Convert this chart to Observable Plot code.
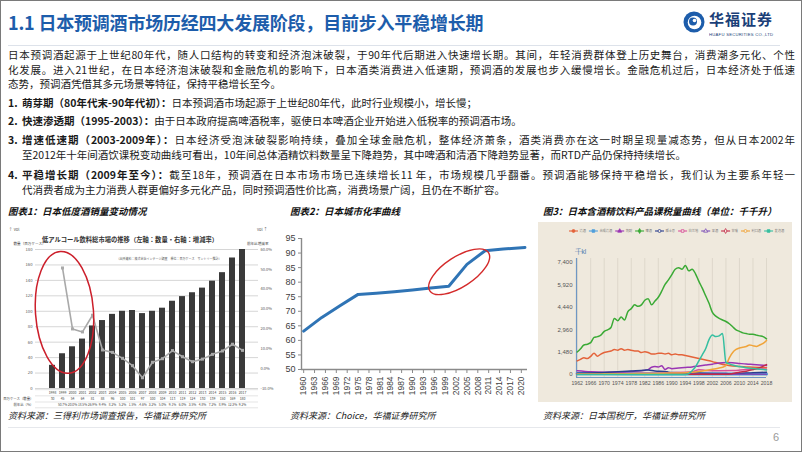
<!DOCTYPE html>
<html><head><meta charset="utf-8">
<script src="https://cdn.jsdelivr.net/npm/d3@7"></script>
<script src="https://cdn.jsdelivr.net/npm/@observablehq/plot@0.6"></script>
<style>
html,body{margin:0;padding:0;background:#fff;}
#slide{position:relative;width:802px;height:452px;overflow:hidden;font-family:"Noto Sans CJK SC","Noto Sans",sans-serif;color:#1a1a1a;background:#fff;}
.abs{position:absolute;white-space:nowrap;}
.jl{position:absolute;font-size:10.5px;line-height:14px;text-align:justify;text-align-last:justify;}
.ll{position:absolute;font-size:10.5px;line-height:14px;white-space:nowrap;}
.num{position:absolute;left:8px;font-size:10.5px;line-height:14px;font-weight:bold;}
b{font-weight:bold;}
.ctitle{position:absolute;font-size:9.5px;font-weight:bold;font-style:italic;white-space:nowrap;color:#111;}
.src{position:absolute;top:409px;font-size:9px;line-height:14px;font-style:italic;color:#222;white-space:nowrap;}
.chart{position:absolute;}
#frame{position:absolute;left:0;top:0;width:802px;height:452px;box-sizing:border-box;border:1.5px solid #7a7a7a;pointer-events:none;}
</style></head>
<body>
<div id="slide">
  <div class="abs" style="left:8px;top:9px;font-size:18px;line-height:26px;font-weight:bold;color:#1d5dab;letter-spacing:-0.2px;">1.1 日本预调酒市场历经四大发展阶段，目前步入平稳增长期</div>
  <svg class="abs" style="left:682px;top:10px" width="24" height="24" viewBox="0 0 24 24">
    <circle cx="12" cy="12" r="10.5" fill="#1d5dab"/>
    <circle cx="12.5" cy="12.5" r="6.8" fill="#fff"/>
    <circle cx="11" cy="11.5" r="4" fill="#1d5dab"/>
    <circle cx="12.5" cy="10.5" r="1.8" fill="#fff"/>
  </svg>
  <div class="abs" style="left:709px;top:9px;font-size:15px;line-height:20px;font-weight:bold;color:#1b3f78;letter-spacing:1px;">华福证券</div>
  <svg class="abs" style="left:709px;top:31px" width="70" height="7"><text x="0" y="5" font-size="4.2" font-family="Liberation Sans, Arial" fill="#1b3f78" textLength="64">HUAFU SECURITIES CO.,LTD</text></svg>
  <div class="abs" style="left:8px;top:45px;width:772px;height:1px;background:#dde2ea;"></div>

  <div class="jl" style="left:8px;top:48px;width:787px;">日本预调酒起源于上世纪80年代，随人口结构的转变和经济泡沫破裂，于90年代后期进入快速增长期。其间，年轻消费群体登上历史舞台，消费潮多元化、个性</div>
  <div class="jl" style="left:8px;top:63px;width:787px;">化发展。进入21世纪，在日本经济泡沫破裂和金融危机的影响下，日本酒类消费进入低速期，预调酒的发展也步入缓慢增长。金融危机过后，日本经济处于低速</div>
  <div class="ll" style="left:8px;top:77px;">态势，预调酒凭借其多元场景等特征，保持平稳增长至今。</div>

  <div class="num" style="top:96px;">1.</div>
  <div class="ll" style="left:22px;top:96px;"><b>萌芽期（80年代末-90年代初）：</b>日本预调酒市场起源于上世纪80年代，此时行业规模小，增长慢；</div>
  <div class="num" style="top:114px;">2.</div>
  <div class="ll" style="left:22px;top:114px;"><b>快速渗透期（1995-2003）：</b>由于日本政府提高啤酒税率，驱使日本啤酒企业开始进入低税率的预调酒市场。</div>
  <div class="num" style="top:133px;">3.</div>
  <div class="jl" style="left:22px;top:133px;width:773px;"><b>增速低速期（2003-2009年）：</b>日本经济受泡沫破裂影响持续，叠加全球金融危机，整体经济萧条，酒类消费亦在这一时期呈现量减态势，但从日本2002年</div>
  <div class="ll" style="left:22px;top:148px;">至2012年十年间酒饮课税变动曲线可看出，10年间总体酒精饮料数量呈下降趋势，其中啤酒和清酒下降趋势显著，而RTD产品仍保持持续增长。</div>
  <div class="num" style="top:168px;">4.</div>
  <div class="jl" style="left:22px;top:168px;width:773px;"><b>平稳增长期（2009年至今）：</b>截至18年，预调酒在日本市场市场已连续增长11 年，市场规模几乎翻番。预调酒能够保持平稳增长，我们认为主要系年轻一</div>
  <div class="ll" style="left:22px;top:183px;">代消费者成为主力消费人群更偏好多元化产品，同时预调酒性价比高，消费场景广阔，且仍在不断扩容。</div>

  <div class="ctitle" style="left:8px;top:204px;">图表1：日本低度酒销量变动情况</div>
  <div class="ctitle" style="left:290px;top:204px;">图表2：日本城市化率曲线</div>
  <div class="ctitle" style="left:543px;top:204px;">图3：日本含酒精饮料产品课税量曲线（单位：千千升）</div>

  <div id="c1" class="chart" style="left:5px;top:225px;"></div>
  <div id="c2" class="chart" style="left:270px;top:225px;"></div>
  <div id="c3wrap" class="chart" style="left:538px;top:222px;width:254px;height:180px;background:#efe9dd;"></div>
  <div id="c3" class="chart" style="left:538px;top:222px;"></div>
  <svg id="c3legend" class="chart" style="left:538px;top:225px;" width="254" height="12"></svg>

  <div class="src" style="left:8px;">资料来源：三得利市场调查报告，华福证券研究所</div>
  <div class="src" style="left:290px;">资料来源：Choice，华福证券研究所</div>
  <div class="src" style="left:543px;">资料来源：日本国税厅，华福证券研究所</div>
  <div class="abs" style="left:8px;top:427px;width:772px;height:1px;background:#e6e8ec;"></div>
  <div class="abs" style="left:773px;top:429px;font-size:11px;line-height:16px;color:#9a9a9a;font-family:'Liberation Sans',Arial;">6</div>
  <div id="frame"></div>
</div>
<script>
// ---------- Chart 1 data: 低アルコール飲料総市場 ----------
const c1Years = ["1998","1999","2000","2001","2002","2003","2004","2005","2006","2007","2008","2009","2010","2011","2012","2013","2014","2015","2016","2017"];
const c1Volume = [30,45,54,64,81,88,96,100,101,97,100,104,113,119,124,130,139,150,169,180];
const c1Rate = [null,50.7,20.0,18.5,26.9,9.4,8.2,5.2,1.5,-4.6,3.2,5.0,9.1,6.0,3.5,4.8,7.2,8.9,12.3,9.2];
const c1LeftTicks = [0,20,40,60,80,100,120,140,160,180];
const c1RightTicks = [-10,0,10,20,30,40,50,60];

// ---------- Chart 2 data: 日本城市化率 ----------
const c2Years = [1960,1965,1970,1975,1980,1985,1990,1995,2000,2005,2010,2015,2021];
const c2Rate = [63.2,67.9,71.9,75.8,76.2,76.7,77.3,78.0,78.6,86.1,90.8,91.4,91.9];
const c2XTicks = [1960,1963,1966,1969,1972,1975,1978,1981,1984,1987,1990,1993,1996,1999,2002,2005,2008,2011,2014,2017,2020];
const c2YTicks = [50,55,60,65,70,75,80,85,90,95];

// ---------- Chart 3 data: 课税量 (千kl) ----------
const c3Names = ["清酒","合成清酒","烧酎","啤酒","威士忌","白兰地","果酒","甘味","利口酒","发泡酒"];
const c3Beer = [[1962,1480],[1963,1700],[1964,1950],[1965,2000],[1966,2100],[1967,2450],[1968,2500],[1969,2600],[1970,2850],[1971,2950],[1972,3100],[1973,3700],[1974,3550],[1975,3800],[1976,3600],[1977,4150],[1978,4350],[1979,4600],[1980,4500],[1981,4600],[1982,4900],[1983,5000],[1984,4600],[1985,4850],[1986,5100],[1987,5500],[1988,5950],[1989,6250],[1990,6600],[1991,6950],[1992,7050],[1993,6950],[1994,7200],[1995,6850],[1996,6950],[1997,6650],[1998,6150],[1999,5700],[2000,5200],[2001,4700],[2002,4100],[2003,3850],[2004,3700],[2005,3600],[2006,3500],[2007,3350],[2008,3150],[2009,2950],[2010,2850],[2011,2750],[2012,2700],[2013,2650],[2014,2650],[2015,2600],[2016,2550],[2017,2500],[2018,2350]];
const c3Sake = [[1962,900],[1963,1000],[1964,1100],[1965,1050],[1966,1200],[1967,1400],[1968,1200],[1969,1350],[1970,1450],[1971,1500],[1972,1550],[1973,1650],[1974,1600],[1975,1700],[1976,1600],[1977,1650],[1978,1600],[1979,1550],[1980,1550],[1981,1450],[1982,1500],[1983,1450],[1984,1350],[1985,1350],[1986,1400],[1987,1400],[1988,1350],[1989,1400],[1990,1300],[1991,1350],[1992,1300],[1993,1300],[1994,1250],[1996,1150],[1998,1050],[2000,950],[2002,850],[2004,720],[2006,620],[2008,560],[2010,520],[2012,500],[2014,480],[2016,460],[2018,440]];
const c3GouseiSake = [[1962,60],[1970,50],[1980,40],[1990,30],[2000,40],[2010,30],[2018,30]];
const c3Shochu = [[1962,250],[1966,180],[1970,150],[1974,160],[1978,200],[1981,250],[1983,320],[1984,480],[1985,520],[1986,500],[1987,580],[1988,330],[1989,450],[1990,380],[1992,420],[1994,460],[1996,500],[1998,560],[2000,620],[2002,680],[2004,760],[2006,790],[2008,770],[2010,730],[2012,690],[2014,660],[2016,630],[2018,600]];
const c3Whisky = [[1962,80],[1966,100],[1970,130],[1974,180],[1978,230],[1982,280],[1983,300],[1985,230],[1988,200],[1989,150],[1990,130],[1994,110],[1998,90],[2002,70],[2006,60],[2008,50],[2010,60],[2012,90],[2014,110],[2016,130],[2018,150]];
const c3Brandy = [[1962,30],[1970,50],[1980,80],[1990,120],[1996,180],[1998,320],[2000,270],[2004,250],[2008,260],[2012,330],[2016,360],[2018,350]];
const c3Fruit = [[1962,20],[1980,30],[2000,20],[2018,20]];
const c3Sweet = [[1962,10],[1990,10],[2000,10],[2006,10],[2008,60],[2010,150],[2012,220],[2014,320],[2016,450],[2018,650]];
const c3Liqueur = [[1962,30],[1970,40],[1980,60],[1990,90],[1994,110],[1996,150],[1998,200],[2000,260],[2002,340],[2004,430],[2005,480],[2006,600],[2007,1100],[2008,1450],[2009,1650],[2010,1750],[2011,1800],[2012,1850],[2013,1950],[2014,1900],[2015,1850],[2016,1950],[2017,2050],[2018,2250]];
const c3Happoshu = [[1962,0],[1994,0],[1995,60],[1996,250],[1997,500],[1998,900],[1999,1300],[2000,1700],[2001,2300],[2002,2600],[2003,2500],[2004,2550],[2005,2700],[2006,800],[2007,700],[2008,620],[2010,520],[2012,450],[2014,400],[2016,350],[2018,300]];
const c3XTicks = [1962,1966,1970,1974,1978,1982,1986,1990,1994,1998,2002,2006,2010,2014,2018];
const c3YTicks = [0,1480,2960,4440,5920,7400];

const CJK = "Noto Sans CJK JP, Noto Sans CJK SC, sans-serif";

// ---------- Chart 1 ----------
(function(){
  const rateToY = r => (r + 10) * 180 / 70;
  const yToRate = v => v * 70 / 180 - 10;
  const data = c1Years.map((y,i)=>({year:y, vol:c1Volume[i], rate:c1Rate[i]}));
  const rateData = data.filter(d=>d.rate!=null);
  const ellipse = (index, scales) => {
    const x = scales.x, y = scales.y;
    const step = x("2000") - x("1999");
    const cx = x("1999") + step*0.55, cy = y(98);
    return d3.create("svg:ellipse").attr("cx",cx).attr("cy",cy).attr("rx",29).attr("ry",61)
      .attr("transform",`rotate(-4 ${cx} ${cy})`).attr("fill","none").attr("stroke","#cc1f2b").attr("stroke-width",1.5).node();
  };
  const p = Plot.plot({
    width: 265, height: 185,
    marginTop: 24, marginBottom: 22, marginLeft: 30, marginRight: 12,
    style: {fontFamily: CJK, background: "#fff", color:"#555", overflow:"visible"},
    x: {type:"band", domain: c1Years, padding: 0.45},
    y: {domain:[0,180]},
    marks: [
      Plot.gridY(c1LeftTicks, {stroke:"#d6d6d6", strokeOpacity:1}),
      Plot.axisY(c1LeftTicks, {anchor:"left", tickSize:0, tickPadding:3, fontSize:4.2}),
      Plot.axisY(c1RightTicks.map(rateToY), {anchor:"right", tickSize:0, tickPadding:2, fontSize:4, tickFormat: v => yToRate(v).toFixed(1)+"%"}),
      Plot.axisX({tickSize:0, label:null, ticks:[], tickFormat:()=>""}),
      Plot.barY(data, {x:"year", y:"vol", fill:"#3a3a3a"}),
      Plot.line(rateData, {x:"year", y: d=>rateToY(d.rate), stroke:"#a9a9a9", strokeWidth:1.6}),
      Plot.dot(rateData, {x:"year", y: d=>rateToY(d.rate), symbol:"square", r:1.7, fill:"#a9a9a9"}),
      Plot.ruleY([-1.5,-9.5,-17.5,-25], {stroke:"#bbb", strokeWidth:0.4}),
      Plot.text(data, {x:"year", y:-5.5, text:"year", fontSize:3.4, fill:"#444"}),
      Plot.text(data, {x:"year", y:-13.5, text: d=>String(d.vol), fontSize:3.4, fill:"#444"}),
      Plot.text(rateData, {x:"year", y:-21.3, text: d=>d.rate.toFixed(1)+"%", fontSize:3.2, fill:"#444"}),
      Plot.text(["百万ケース（数量）"], {frameAnchor:"left", y:-13.5, dx:-2, textAnchor:"end", fontSize:3.4, fill:"#444"}),
      Plot.text(["前年比（%）"], {frameAnchor:"left", y:-21.3, dx:-2, textAnchor:"end", fontSize:3.4, fill:"#444"}),
      Plot.text(["低アルコール飲料総市場の推移（左軸：数量・右軸：増減率）"], {frameAnchor:"top", dx:-17, dy:-12, fontSize:6.3, fontWeight:"bold", fill:"#333"}),
      Plot.text(["数量（百万ケース）"], {frameAnchor:"top-left", dx:-22, dy:-7, fontSize:3.6, textAnchor:"start", fill:"#444"}),
      Plot.text(["前年比増減率"], {frameAnchor:"top-right", dx:10, dy:-7, fontSize:3.6, textAnchor:"end", fill:"#444"}),
      Plot.text(["（出所資料：株式会社インテージ調査　単位：百万ケース　サントリー推計）"], {frameAnchor:"top", dx:22, dy:8, fontSize:3, fill:"#555"}),
      ellipse
    ]
  });
  document.getElementById("c1").appendChild(p);
})();

// ---------- Chart 2 ----------
(function(){
  const data = c2Years.map((y,i)=>({year:y, rate:c2Rate[i]}));
  const ellipse = (index, scales) => {
    const cx = scales.x(2003), cy = scales.y(83.4);
    return d3.create("svg:ellipse").attr("cx",cx).attr("cy",cy).attr("rx",35).attr("ry",15)
      .attr("transform",`rotate(-33 ${cx} ${cy})`).attr("fill","none").attr("stroke","#d42a2a").attr("stroke-width",1.4).node();
  };
  const p = Plot.plot({
    width: 270, height: 185,
    marginTop: 13, marginBottom: 41, marginLeft: 31, marginRight: 13,
    style: {fontFamily:"Liberation Sans, Arial, sans-serif", background:"transparent", color:"#404040", overflow:"visible"},
    x: {domain:[1959.4, 2021.7]},
    y: {domain:[50,95]},
    marks: [
      Plot.ruleX([1959.4], {stroke:"#8a8a8a", strokeWidth:1.4}),
      Plot.ruleY([50], {stroke:"#8a8a8a", strokeWidth:1.4}),
      Plot.axisY({ticks:c2YTicks, tickSize:3, tickPadding:3, fontSize:9, label:null, stroke:"#8a8a8a"}),
      Plot.axisX({ticks:c2XTicks, tickFormat:d=>String(d), tickRotate:-90, tickSize:4, tickPadding:3, fontSize:8.4, label:null, stroke:"#8a8a8a"}),
      Plot.line(data, {x:"year", y:"rate", stroke:"#2f74b5", strokeWidth:3, strokeLinejoin:"round"}),
      ellipse
    ]
  });
  document.getElementById("c2").appendChild(p);
})();

// ---------- Chart 3 ----------
(function(){
  const seriesDefs = [
    {name:c3Names[0], data:c3Sake, color:"#e4633a", symbol:"circle", filled:true},
    {name:c3Names[1], data:c3GouseiSake, color:"#4f9fdc", symbol:"square", filled:true},
    {name:c3Names[2], data:c3Shochu, color:"#9a35b4", symbol:"triangle", filled:true},
    {name:c3Names[3], data:c3Beer, color:"#3aaa35", symbol:"diamond", filled:true},
    {name:c3Names[4], data:c3Whisky, color:"#2a3f8f", symbol:"circle", filled:false},
    {name:c3Names[5], data:c3Brandy, color:"#d9509a", symbol:"square", filled:false},
    {name:c3Names[6], data:c3Fruit, color:"#7b4db6", symbol:"triangle", filled:false},
    {name:c3Names[7], data:c3Sweet, color:"#c42a48", symbol:"diamond", filled:false},
    {name:c3Names[8], data:c3Liqueur, color:"#f0a43a", symbol:"circle", filled:false},
    {name:c3Names[9], data:c3Happoshu, color:"#35bfa0", symbol:"square", filled:true}
  ];
  const rows = seriesDefs.flatMap(s => s.data.map(([year,value]) => ({name:s.name, year, value})));
  const p = Plot.plot({
    width: 254, height: 180,
    marginTop: 36, marginBottom: 25, marginLeft: 38, marginRight: 26,
    style: {fontFamily:"Liberation Sans, Arial, sans-serif", background:"transparent", color:"#555", overflow:"visible"},
    x: {domain:[1961.8, 2018]},
    y: {domain:[-200, 7660]},
    color: {domain: seriesDefs.map(s=>s.name), range: seriesDefs.map(s=>s.color)},
    marks: [
      Plot.gridX(c3XTicks, {stroke:"#d9d3c7", strokeOpacity:1, strokeWidth:0.8}),
      Plot.axisX({ticks:c3XTicks, tickFormat:d=>String(d), tickSize:0, tickPadding:4, fontSize:5.2, label:null}),
      Plot.axisY({ticks:c3YTicks, tickFormat:d3.format(","), tickSize:0, tickPadding:4, fontSize:6, label:null}),
      Plot.ruleX([1961.8], {stroke:"#6f97c4", strokeWidth:1.2}),
      Plot.ruleY([-200], {stroke:"#6f97c4", strokeWidth:1.2}),
      Plot.line(rows.filter(d=>d.name===c3Names[1]), {x:"year", y:"value", stroke:"#4f9fdc", strokeWidth:3.2, curve:"monotone-x"}),
      Plot.line(rows.filter(d=>d.name!==c3Names[1]), {x:"year", y:"value", z:"name", stroke:"name", strokeWidth:1.5, curve:"monotone-x"}),
      Plot.text(["千kl"], {frameAnchor:"top-left", dx:-2, dy:-9, fontSize:6.5, fill:"#4a78ae", textAnchor:"start"})
    ]
  });
  document.getElementById("c3").appendChild(p);

  // legend
  const svg = d3.select("#c3legend");
  let x = 31;
  const symPath = {circle: d3.symbolCircle, square: d3.symbolSquare, triangle: d3.symbolTriangle, diamond: d3.symbolDiamond};
  seriesDefs.forEach(s => {
    const g = svg.append("g").attr("transform", `translate(${x},6)`);
    g.append("line").attr("x1",0).attr("x2",9).attr("y1",0).attr("y2",0).attr("stroke",s.color).attr("stroke-width",1.1);
    g.append("path").attr("transform","translate(4.5,0)").attr("d", d3.symbol(symPath[s.symbol], 7)())
      .attr("fill", s.filled ? s.color : "#efe9dd").attr("stroke", s.color).attr("stroke-width",0.8);
    g.append("text").attr("x",10.5).attr("y",1.3).attr("font-size",3.2).attr("fill","#777").attr("font-family",CJK).text(s.name);
    x += 10.5 + s.name.length*3.2 + 3;
  });
})();
</script>
</body></html>
